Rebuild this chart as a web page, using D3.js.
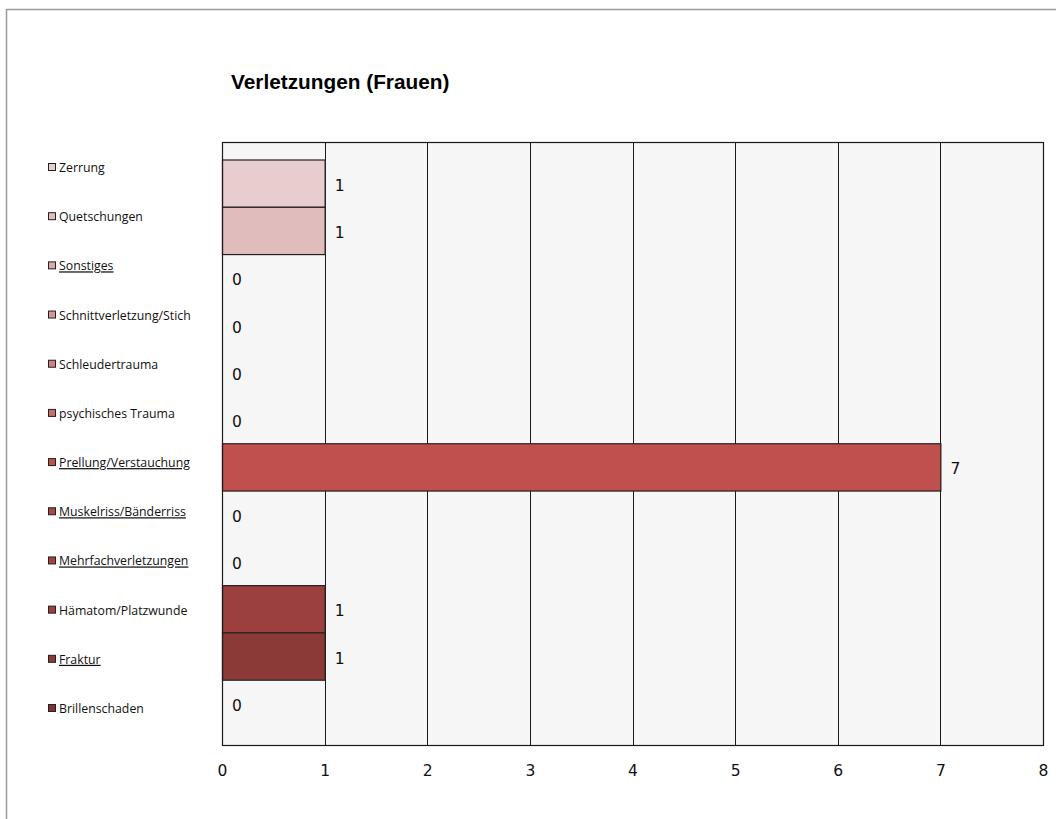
<!DOCTYPE html>
<html>
<head>
<meta charset="utf-8">
<script src="https://cdn.jsdelivr.net/npm/d3@7"></script>
<style>
  html, body { margin: 0; padding: 0; background: #fff; }
  svg { display: block; }
</style>
</head>
<body>
<svg id="chart" width="1056" height="819"></svg>
<script>
// Injury types, top to bottom, with counts
const categories = [
  "Zerrung", "Quetschungen", "Sonstiges", "Schnittverletzung/Stich",
  "Schleudertrauma", "psychisches Trauma", "Prellung/Verstauchung",
  "Muskelriss/Bänderriss", "Mehrfachverletzungen", "Hämatom/Platzwunde",
  "Fraktur", "Brillenschaden"
];
const values = [1, 1, 0, 0, 0, 0, 7, 0, 0, 1, 1, 0];
const colors = [
  "#e8cdcf", "#e0bcbc", "#d9aaa9", "#d39795", "#cc8481", "#c5706d",
  "#c0504d", "#a94744", "#a24441", "#9b403e", "#8c3a38", "#7d3432"
];
const underlined = ["Sonstiges", "Prellung/Verstauchung", "Muskelriss/Bänderriss",
                    "Mehrfachverletzungen", "Fraktur"];
const xTicks = [0, 1, 2, 3, 4, 5, 6, 7, 8];
const title = "Verletzungen (Frauen)";

const svg = d3.select("#chart");

// outer frame
svg.append("path")
  .attr("d", "M6.5,819 L6.5,9.5 L1056,9.5")
  .attr("fill", "none").attr("stroke", "#9a9a9a").attr("stroke-width", 1.5);

const plot = { left: 222, right: 1043, top: 142, bottom: 745 };

const x = d3.scaleLinear().domain([0, 8]).range([plot.left, plot.right]);
const y = d3.scaleBand().domain(categories).range([160, 727.5]).padding(0);

// plot background
svg.append("rect")
  .attr("x", plot.left).attr("y", plot.top)
  .attr("width", plot.right - plot.left).attr("height", plot.bottom - plot.top)
  .attr("fill", "#f6f6f6");

// vertical gridlines
svg.append("g").selectAll("line").data(xTicks.slice(1, -1)).join("line")
  .attr("x1", d => Math.round(x(d)) + 0.5).attr("x2", d => Math.round(x(d)) + 0.5)
  .attr("y1", plot.top).attr("y2", plot.bottom)
  .attr("stroke", "#1a1a1a").attr("stroke-width", 1);

// bars
svg.append("g").selectAll("rect").data(categories).join("rect")
  .filter((d, i) => values[i] > 0)
  .attr("x", plot.left + 0.5)
  .attr("y", d => y(d))
  .attr("width", d => x(values[categories.indexOf(d)]) - plot.left)
  .attr("height", y.bandwidth())
  .attr("fill", d => colors[categories.indexOf(d)])
  .attr("stroke", "#222").attr("stroke-width", 1.2);

// plot frame
svg.append("rect")
  .attr("x", plot.left + 0.5).attr("y", plot.top + 0.5)
  .attr("width", plot.right - plot.left).attr("height", plot.bottom - plot.top)
  .attr("fill", "none").attr("stroke", "#1a1a1a").attr("stroke-width", 1.2);

// value labels
svg.append("g").selectAll("text").data(categories).join("text")
  .attr("x", (d, i) => x(values[i]) + 10)
  .attr("y", d => y(d) + y.bandwidth() / 2 + 7)
  .attr("font-family", "DejaVu Sans, sans-serif").attr("font-size", 15.5)
  .attr("fill", "#111")
  .text((d, i) => values[i]);

// x axis tick labels
const xAxis = d3.axisBottom(x).tickValues(xTicks).tickSize(0).tickPadding(19.5)
  .tickFormat(d3.format("d"));
const ax = svg.append("g").attr("transform", `translate(0,${plot.bottom})`).call(xAxis);
ax.select(".domain").remove();
ax.selectAll("text")
  .attr("font-family", "DejaVu Sans, sans-serif").attr("font-size", 15.5).attr("fill", "#111");

// title
svg.append("text")
  .attr("x", 231).attr("y", 89)
  .attr("font-family", "Liberation Sans, Arial, sans-serif")
  .attr("font-weight", "bold").attr("font-size", 20.8).attr("fill", "#000")
  .text(title);

// legend
const legendY = d3.scalePoint().domain(categories).range([168, 709]);
const lg = svg.append("g").selectAll("g").data(categories).join("g")
  .attr("transform", d => `translate(48,${legendY(d)})`);
lg.append("rect")
  .attr("x", 0.5).attr("y", -4.5).attr("width", 7).attr("height", 7)
  .attr("fill", (d, i) => colors[i]).attr("stroke", "#222").attr("stroke-width", 1);
lg.append("text")
  .attr("x", 11).attr("y", 4)
  .attr("font-family", "Open Sans, sans-serif").attr("font-size", 12.3)
  .attr("fill", "#111")
  .attr("text-decoration", d => underlined.includes(d) ? "underline" : null)
  .text(d => d);
</script>
</body>
</html>
